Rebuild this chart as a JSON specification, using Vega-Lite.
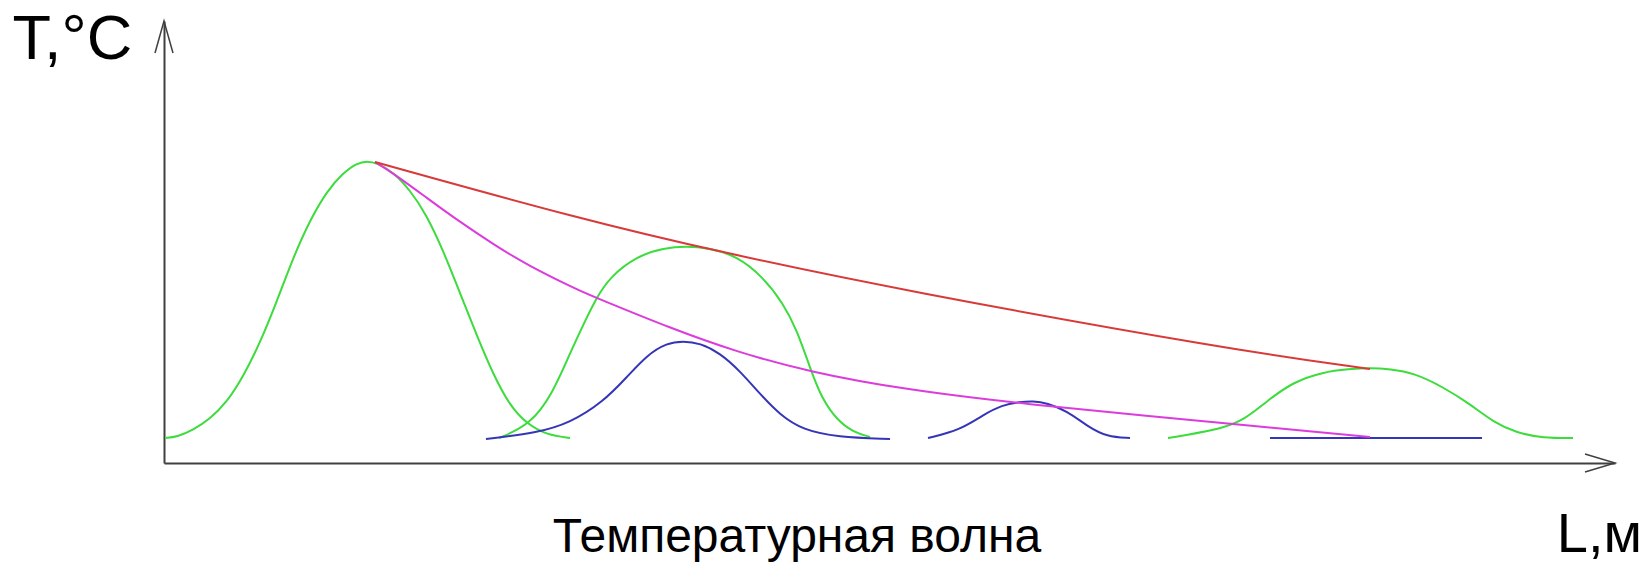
{
  "$schema": "https://vega.github.io/schema/vega-lite/v6.json",
  "width": 1451,
  "height": 442,
  "autosize": {"type": "none"},
  "padding": {"left": 164, "top": 21, "right": 33, "bottom": 102},
  "background": "white",
  "config": {"view": {"stroke": null}, "font": "Liberation Sans"},
  "datasets": {
    "curves": [
      {"curve": "g1", "L": 1, "T": 25}, {"curve": "g1", "L": 13, "T": 26}, {"curve": "g1", "L": 29, "T": 33}, {"curve": "g1", "L": 46, "T": 44},
      {"curve": "g1", "L": 63, "T": 61}, {"curve": "g1", "L": 79, "T": 86}, {"curve": "g1", "L": 96, "T": 120}, {"curve": "g1", "L": 113, "T": 162},
      {"curve": "g1", "L": 129, "T": 205}, {"curve": "g1", "L": 146, "T": 243}, {"curve": "g1", "L": 163, "T": 272}, {"curve": "g1", "L": 179, "T": 290},
      {"curve": "g1", "L": 193, "T": 300}, {"curve": "g1", "L": 203, "T": 302}, {"curve": "g1", "L": 213, "T": 300},
      {"curve": "g1", "L": 229, "T": 291}, {"curve": "g1", "L": 246, "T": 273}, {"curve": "g1", "L": 262, "T": 249}, {"curve": "g1", "L": 279, "T": 213},
      {"curve": "g1", "L": 296, "T": 170}, {"curve": "g1", "L": 313, "T": 127}, {"curve": "g1", "L": 329, "T": 89}, {"curve": "g1", "L": 346, "T": 57},
      {"curve": "g1", "L": 363, "T": 39}, {"curve": "g1", "L": 383, "T": 28}, {"curve": "g1", "L": 406, "T": 25},
      {"curve": "g2", "L": 335, "T": 25}, {"curve": "g2", "L": 366, "T": 38}, {"curve": "g2", "L": 389, "T": 70}, {"curve": "g2", "L": 406, "T": 110},
      {"curve": "g2", "L": 423, "T": 146}, {"curve": "g2", "L": 433, "T": 166}, {"curve": "g2", "L": 446, "T": 186}, {"curve": "g2", "L": 473, "T": 207},
      {"curve": "g2", "L": 500, "T": 215}, {"curve": "g2", "L": 522, "T": 217}, {"curve": "g2", "L": 545, "T": 215}, {"curve": "g2", "L": 573, "T": 207}, {"curve": "g2", "L": 599, "T": 186},
      {"curve": "g2", "L": 619, "T": 160}, {"curve": "g2", "L": 633, "T": 133}, {"curve": "g2", "L": 646, "T": 95}, {"curve": "g2", "L": 658, "T": 64},
      {"curve": "g2", "L": 673, "T": 43}, {"curve": "g2", "L": 689, "T": 31}, {"curve": "g2", "L": 706, "T": 26},
      {"curve": "g3", "L": 1004, "T": 25}, {"curve": "g3", "L": 1053, "T": 33}, {"curve": "g3", "L": 1079, "T": 42}, {"curve": "g3", "L": 1103, "T": 62},
      {"curve": "g3", "L": 1129, "T": 81}, {"curve": "g3", "L": 1159, "T": 91}, {"curve": "g3", "L": 1185, "T": 94}, {"curve": "g3", "L": 1206, "T": 95}, {"curve": "g3", "L": 1226, "T": 94}, {"curve": "g3", "L": 1250, "T": 90},
      {"curve": "g3", "L": 1279, "T": 76}, {"curve": "g3", "L": 1306, "T": 59}, {"curve": "g3", "L": 1329, "T": 41}, {"curve": "g3", "L": 1353, "T": 30},
      {"curve": "g3", "L": 1379, "T": 25}, {"curve": "g3", "L": 1409, "T": 25},
      {"curve": "b1", "L": 322, "T": 24}, {"curve": "b1", "L": 373, "T": 30}, {"curve": "b1", "L": 406, "T": 40}, {"curve": "b1", "L": 439, "T": 61},
      {"curve": "b1", "L": 463, "T": 86}, {"curve": "b1", "L": 483, "T": 108}, {"curve": "b1", "L": 503, "T": 120}, {"curve": "b1", "L": 519, "T": 122},
      {"curve": "b1", "L": 536, "T": 120}, {"curve": "b1", "L": 556, "T": 110}, {"curve": "b1", "L": 576, "T": 92}, {"curve": "b1", "L": 596, "T": 69},
      {"curve": "b1", "L": 616, "T": 48}, {"curve": "b1", "L": 639, "T": 33}, {"curve": "b1", "L": 673, "T": 26}, {"curve": "b1", "L": 726, "T": 24},
      {"curve": "b2", "L": 764, "T": 25}, {"curve": "b2", "L": 796, "T": 33}, {"curve": "b2", "L": 819, "T": 48}, {"curve": "b2", "L": 838, "T": 58},
      {"curve": "b2", "L": 856, "T": 61}, {"curve": "b2", "L": 869, "T": 62}, {"curve": "b2", "L": 883, "T": 60}, {"curve": "b2", "L": 903, "T": 52},
      {"curve": "b2", "L": 923, "T": 37}, {"curve": "b2", "L": 943, "T": 26}, {"curve": "b2", "L": 966, "T": 25},
      {"curve": "b3", "L": 1106, "T": 25}, {"curve": "b3", "L": 1318, "T": 25},
      {"curve": "m", "L": 211, "T": 301}, {"curve": "m", "L": 229, "T": 290}, {"curve": "m", "L": 263, "T": 265}, {"curve": "m", "L": 296, "T": 241},
      {"curve": "m", "L": 329, "T": 219}, {"curve": "m", "L": 363, "T": 198}, {"curve": "m", "L": 416, "T": 172}, {"curve": "m", "L": 433, "T": 165},
      {"curve": "m", "L": 506, "T": 135}, {"curve": "m", "L": 573, "T": 111}, {"curve": "m", "L": 646, "T": 91}, {"curve": "m", "L": 736, "T": 74},
      {"curve": "m", "L": 869, "T": 58}, {"curve": "m", "L": 986, "T": 47}, {"curve": "m", "L": 1079, "T": 38}, {"curve": "m", "L": 1206, "T": 26},
      {"curve": "r", "L": 211, "T": 301}, {"curve": "r", "L": 416, "T": 244}, {"curve": "r", "L": 556, "T": 211}, {"curve": "r", "L": 736, "T": 173},
      {"curve": "r", "L": 1069, "T": 113}, {"curve": "r", "L": 1206, "T": 94}
    ],
    "arrows": [
      {"part": "y", "seq": 1, "L": -9, "T": 410}, {"part": "y", "seq": 2, "L": 0, "T": 442}, {"part": "y", "seq": 3, "L": 9, "T": 410},
      {"part": "x", "seq": 1, "L": 1421, "T": 9}, {"part": "x", "seq": 2, "L": 1451, "T": 0}, {"part": "x", "seq": 3, "L": 1421, "T": -9}
    ],
    "caption": [{"L": 633, "T": -89, "text": "Температурная волна"}],
    "xlabel": [{"L": 1478, "T": -89, "text": "L,м"}]
  },
  "layer": [
    {
      "data": {"name": "curves"},
      "mark": {"type": "line", "interpolate": "basis", "strokeWidth": 2},
      "encoding": {
        "x": {
          "field": "L", "type": "quantitative",
          "scale": {"domain": [0, 1451], "nice": false, "zero": false},
          "axis": {
            "title": null, "domain": true, "domainColor": "#404040", "domainWidth": 2,
            "ticks": false, "labels": false, "grid": false
          }
        },
        "y": {
          "field": "T", "type": "quantitative",
          "scale": {"domain": [0, 442], "nice": false, "zero": false},
          "axis": {
            "title": "T,°C", "domain": true, "domainColor": "#404040", "domainWidth": 2,
            "ticks": false, "labels": false, "grid": false,
            "titleFont": "Liberation Sans", "titleFontSize": 63, "titleFontWeight": "normal", "titleColor": "black",
            "titleAngle": 0, "titleAlign": "left", "titleX": -152, "titleY": 37, "titleBaseline": "alphabetic"
          }
        },
        "color": {
          "field": "curve", "type": "nominal",
          "scale": {"domain": ["g1", "g2", "g3", "b1", "b2", "b3", "m", "r"],
                    "range": ["#3ddc3d", "#3ddc3d", "#3ddc3d", "#3535b8", "#3535b8", "#3535b8", "#dc3cdc", "#d83a3a"]},
          "legend": null
        }
      }
    },
    {
      "data": {"name": "arrows"},
      "mark": {"type": "line", "color": "#404040", "strokeWidth": 1.5},
      "encoding": {
        "x": {"field": "L", "type": "quantitative"},
        "y": {"field": "T", "type": "quantitative"},
        "detail": {"field": "part"},
        "order": {"field": "seq", "type": "quantitative"}
      }
    },
    {
      "data": {"name": "caption"},
      "mark": {"type": "text", "font": "Liberation Sans", "fontSize": 48, "align": "center", "baseline": "alphabetic", "color": "black"},
      "encoding": {
        "x": {"field": "L", "type": "quantitative"},
        "y": {"field": "T", "type": "quantitative"},
        "text": {"field": "text"}
      }
    },
    {
      "data": {"name": "xlabel"},
      "mark": {"type": "text", "font": "Liberation Sans", "fontSize": 56, "align": "right", "baseline": "alphabetic", "color": "black"},
      "encoding": {
        "x": {"field": "L", "type": "quantitative"},
        "y": {"field": "T", "type": "quantitative"},
        "text": {"field": "text"}
      }
    }
  ]
}
